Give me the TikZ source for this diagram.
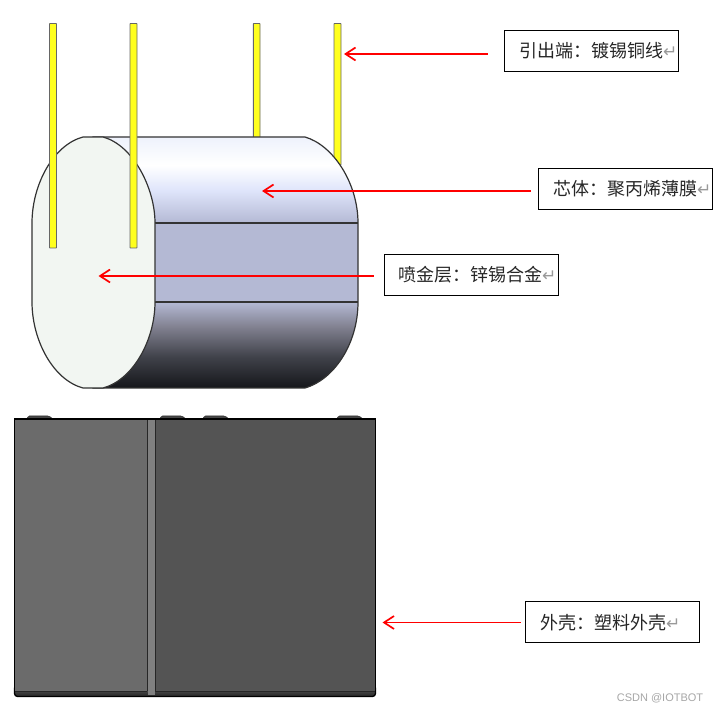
\documentclass[tikz,border=0pt]{standalone}
\usepackage{fontspec}
\newfontfamily\cjk{Noto Sans CJK SC}
\newfontfamily\symf{DejaVu Sans}
\newfontfamily\markf{Liberation Sans}
\usetikzlibrary{positioning,arrows.meta}

\definecolor{bandblue}{HTML}{B4B9D4}
\definecolor{bandtop}{HTML}{EEF2FC}
\definecolor{bandpale}{HTML}{DFE5FB}
\definecolor{banddark}{HTML}{15161A}
\definecolor{bandmid}{HTML}{80808F}
\definecolor{bandlow}{HTML}{40424A}
\definecolor{capwhite}{HTML}{F2F6F2}
\definecolor{leadyellow}{HTML}{FFFF1E}
\pgfdeclareverticalshading{bodytone}{100bp}{
  color(0bp)=(banddark); color(25bp)=(banddark); color(31.2bp)=(bandlow); color(37.1bp)=(bandmid);
  color(42.1bp)=(bandblue); color(57.9bp)=(bandblue); color(64.4bp)=(bandpale);
  color(69.4bp)=(white); color(75bp)=(bandtop); color(100bp)=(bandtop)}
\pgfdeclareverticalshading{footstrip}{100bp}{
  color(0bp)=(black!85); color(25bp)=(black!85); color(75bp)=(black!62); color(100bp)=(black!62)}
\newcommand{\retmark}{{\symf\fontsize{17}{17}\selectfont\textcolor{black!40}{↵}}}

\begin{document}
\begin{tikzpicture}[
  x=1pt, y=-1pt, >={Straight Barb[length=10pt,width=13pt]},
  lab/.style={draw, line width=1pt, inner xsep=0pt, inner ysep=0pt, anchor=west,
    minimum height=41pt, text width=174pt, align=left,
    font=\cjk\fontsize{18}{18}\selectfont, text=black!85},
  ptr/.style={->, red, line width=1.7pt},
  lead/.style={fill=leadyellow, draw=black!60, line width=0.9pt, rounded corners=0.5pt},
  edge/.style={draw=black!80, line width=1.2pt},
  slit/.style={draw=black!80, line width=1.4pt},
  tab/.style={fill=black!72, draw=black!80, line width=0.7pt, rounded corners=1.5pt},
]
\useasboundingbox (0,0) rectangle (716,711);
% ---- leads behind the body ----
\draw[lead] (253.3,23.5) rectangle (260,140);
\draw[lead] (334,23.5) rectangle (341,165);
% ---- body and end cap ----
\shade[shading=bodytone, edge] (93,137) -- (305,137)
  .. controls (333,145) and (358,183) .. (358,223) -- (358,302)
  .. controls (358,345) and (333,380) .. (305,388) -- (93,388) -- cycle;
\draw[slit] (155,223) -- (358,223);
\draw[slit] (155,302) -- (358,302);
\draw[edge, fill=capwhite] (83,137) -- (103,137)
  .. controls (133,145) and (155,188) .. (155,223) -- (155,302)
  .. controls (155,340) and (133,380) .. (103,388) -- (83,388)
  .. controls (53,380) and (32,340) .. (32,302) -- (32,223)
  .. controls (32,185) and (53,145) .. (83,137) -- cycle;
% ---- leads in front ----
\foreach \xl in {49.5,130}
  \draw[lead] (\xl,23.5) rectangle ++(7,224.5);
% ---- case ----
\foreach \xl in {27,160,203,337}
  \draw[tab] (\xl,420) -- ++(1,-4) -- ++(21,0) -- ++(5,4) -- cycle;
\fill[black!58] (15,419) rectangle (147,691);
\fill[black!67] (155,419) rectangle (375,691);
\fill[black!50] (147,419) rectangle (155,695);
\draw[black!85, line width=1pt] (147,419) -- (147,691);
\draw[black!85, line width=1pt] (155,419) -- (155,691);
\shade[shading=footstrip, draw=black, line width=1.3pt, rounded corners=3pt]
  (14.5,685) -- (14.5,696.5) -- (375.5,696.5) -- (375.5,685) -- cycle;
\fill[black!58] (15.2,680) rectangle (147,691);
\fill[black!67] (155,680) rectangle (374.8,691);
\fill[black!50] (147.5,680) rectangle (154.5,695);
\draw[black!85, line width=1pt] (147,680) -- (147,691) (155,680) -- (155,691);
\draw[black!85, line width=1pt] (15,691) -- (147,691) (155,691) -- (375,691);
\draw[black, line width=1.3pt] (14.5,690) -- (14.5,419) -- (375.5,419) -- (375.5,690);
% ---- labels ----
\node[lab] (wire) at (503.5,51) {\hspace*{15pt}引出端：镀锡铜线\retmark};
\node[lab] (core) at (537.5,189) {\hspace*{15pt}芯体：聚丙烯薄膜\retmark};
\node[lab] (spray) at (383.5,275) {\hspace*{14pt}喷金层：锌锡合金\retmark};
\node[lab] (shell) at (524.5,622.5) {\hspace*{15pt}外壳：塑料外壳\retmark};
\node[font=\markf\fontsize{11}{11}\selectfont, text=black!35, inner sep=0pt] (mark) at (660,698.5) {CSDN @IOTBOT};
% ---- pointers ----
\coordinate (wiretip) at (344,54);
\coordinate (coretip) at (262,191);
\coordinate (spraytip) at (98.5,276);
\coordinate (shelltip) at (382.5,622.5);
\draw[ptr, shorten <=16pt] (wire.west |- wiretip) -- (wiretip);
\draw[ptr, shorten <=7pt] (core.west |- coretip) -- (coretip);
\draw[ptr, shorten <=10pt] (spray.west |- spraytip) -- (spraytip);
\draw[ptr, shorten <=4pt] (shell.west) -- (shelltip);
\end{tikzpicture}
\end{document}
